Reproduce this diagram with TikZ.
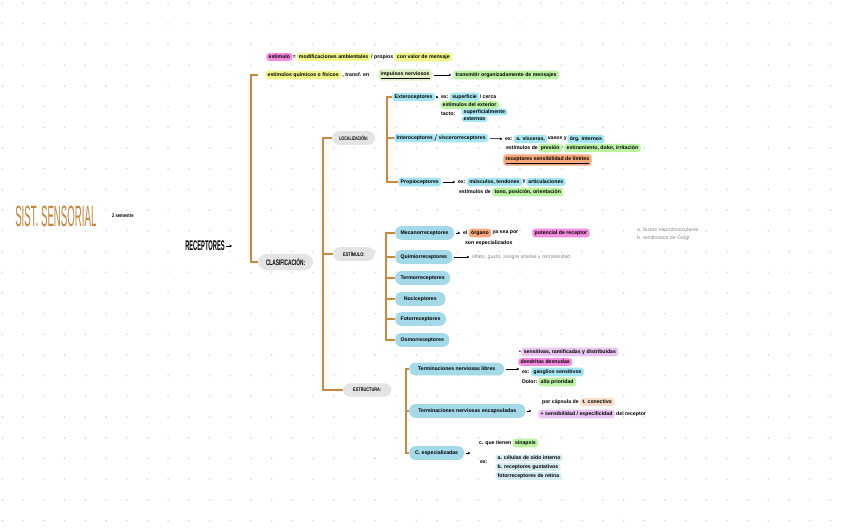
\documentclass[tikz,border=0pt]{standalone}
\usepackage{fontspec}
\setmainfont{Liberation Sans}
\usepackage{graphicx}
\usetikzlibrary{arrows.meta,positioning}
\definecolor{brk}{HTML}{C98A3E}
\definecolor{ttl}{HTML}{C9843A}
\definecolor{dotc}{HTML}{DADADA}
\definecolor{pillblue}{HTML}{A3D9E8}
\definecolor{pillgray}{HTML}{E4E4E4}
\definecolor{hlblue}{HTML}{A6E6F4}
\definecolor{hlyellow}{HTML}{F2F78A}
\definecolor{hlgreen}{HTML}{BCF4A4}
\definecolor{hlpink}{HTML}{F58CE0}
\definecolor{hlorange}{HTML}{F7A87C}
\definecolor{hllorange}{HTML}{FCDCCB}
\definecolor{hlpurple}{HTML}{EBC6F5}
\definecolor{hllblue}{HTML}{D5ECF3}
\definecolor{hlolive}{HTML}{E2F2C4}
\definecolor{graytxt}{HTML}{8A8A8A}
\newcommand\fsz{\fontsize{3.9}{4.5}\selectfont\bfseries}
\begin{document}
\begin{tikzpicture}[x=0.75pt,y=-0.75pt,
  txt/.style={font=\fsz, inner xsep=0.6pt, inner ysep=0.8pt, anchor=west},
  hl/.style={txt, fill=#1, rounded corners=2.2pt, inner xsep=1.8pt, inner ysep=1.4pt},
  pill/.style={font=\fsz, fill=pillblue, rounded corners=4.5pt, minimum height=9pt, inner xsep=4pt, anchor=west},
  gpill/.style={font=\fsz, fill=pillgray, rounded corners=5pt, minimum height=10pt, inner xsep=4pt, anchor=west},
  brkl/.style={draw=brk, line width=1.1pt},
  arr/.style={-{Stealth[length=2pt,width=2pt]}, line width=0.45pt, shorten >=1.2pt, shorten <=1.2pt}]
\useasboundingbox (0,0) rectangle (848,530);
\fill[white] (0,0) rectangle (848,530);
\foreach \i in {0,...,40}{\foreach \j in {0,...,25}{\fill[dotc] (2.5+20.7*\i,3.1+20.7*\j) circle[radius=0.9];}}

% title
\node[anchor=west, text=ttl, font=\fontsize{22}{22}\selectfont, inner sep=0pt] (title) at (15,216) {\scalebox{0.33}[1]{SIST. SENSORIAL}};
\node[txt] (sem) at (111,216) {\scalebox{0.8}[1]{2 semestre}};
\node[anchor=west, font=\fontsize{10.5}{10.5}\selectfont\bfseries, inner sep=0pt] (rec) at (185,246) {\scalebox{0.41}[1]{RECEPTORES}};
\coordinate (recend) at (232,246);
\draw[-{Stealth[length=2pt,width=2.2pt]}, line width=0.6pt] (rec.east) ++(1.5,0) -- (recend);

% row 1
\node[hl=hlpink] (r1a) at (266,57) {estímulo};
\node[txt, right=-0.6pt of r1a] (r1b) {=};
\node[hl=hlyellow, right=-0.6pt of r1b] (r1c) {modificaciones ambientales};
\node[txt, right=-0.6pt of r1c] (r1d) {/ propios};
\node[hl=hlyellow, right=0pt of r1d] (r1e) {con valor de mensaje};
% row 2
\node[hl=hlyellow] (r2a) at (265,75) {estímulos químicos o físicos};
\node[txt, right=0pt of r2a] (r2b) {, transf. en};
\node[hl=hlolive] (r2c) at (378,75) {\underline{impulsos nerviosos}};
\node[hl=hlgreen] (r2d) at (453,75) {transmitir organizadamente de mensajes};
\draw[arr] (r2c) -- (r2d);

% clasificacion
\node[gpill, minimum width=41pt, minimum height=12pt, rounded corners=6pt] (clas) at (258,262) {\scalebox{0.6}[1]{\fontsize{6}{6}\selectfont CLASIFICACIÓN:}};
\draw[brkl] (258,75) -- (251,75) |- (clas.west);

\node[gpill, minimum width=32pt] (loc) at (332,138) {\scalebox{0.7}[1]{LOCALIZACIÓN:}};
\node[gpill, minimum width=31pt] (est) at (333,254) {\scalebox{0.75}[1]{ESTÍMULO:}};
\node[gpill, minimum width=36pt] (estr) at (343,390) {\scalebox{0.75}[1]{ESTRUCTURA:}};
\draw[brkl] (loc.west) -- ++(-9,0) |- (estr.west);
\coordinate (b2) at (323,0);
\draw[brkl] (est.west) -- (est.west -| b2);

% localizacion
\node[hl=hlblue] (ext) at (392,97) {Exteroceptores};
\node[txt] (ex1) at (440,97) {ex:};
\node[hl=hlblue, right=0pt of ex1] (ex2) {superficie};
\node[txt, right=-0.6pt of ex2] (ex3) {/ cerca};
\node[hl=hlgreen] (ex4) at (440,105) {estímulos del exterior};
\node[txt] (ex5) at (440,114) {tacto:};
\node[hl=hlblue, inner ysep=0.8pt] (ex6) at (461,112) {superficialmente};
\node[hl=hlblue, inner ysep=0.8pt] (ex7) at (461,119) {externos};
\draw[arr] (ext) -- (ex1);

\node[hl=hlblue] (int) at (394,138) {Interoceptores};
\node[txt, font=\fontsize{7}{7}\selectfont, right=-1.2pt of int, inner xsep=0.3pt] (intsl) {/};
\node[hl=hlblue, right=-1.2pt of intsl] (visc) {viscerorreceptores};
\node[txt] (in1) at (504,139) {ex:};
\node[hl=hlblue, right=0pt of in1] (in2) {a. vísceras,};
\node[txt, right=-0.6pt of in2] (in3) {vasos y};
\node[hl=hlblue, right=-0.6pt of in3] (in4) {órg. internos};
\node[txt] (in5) at (505,148) {estímulos de};
\node[hl=hlgreen, right=-0.6pt of in5] (in6) {presión};
\node[txt, right=-0.8pt of in6] (in7) {,};
\node[hl=hlgreen, right=-0.6pt of in7] (in8) {estiramiento, dolor, irritación};
\node[hl=hlorange] (in9) at (503,160) {\underline{receptores sensibilidad de límites}};
\draw[arr] (visc) -- (in1);

\node[hl=hlblue] (pro) at (398,182) {Propioceptores};
\node[txt] (pr1) at (457,182) {ex:};
\node[hl=hlblue, right=0pt of pr1] (pr2) {músculos, tendones};
\node[txt, right=-0.6pt of pr2] (pr3) {y};
\node[hl=hlblue, right=-0.6pt of pr3] (pr4) {articulaciones};
\node[txt] (pr5) at (458,192) {estímulos de};
\node[hl=hlgreen, right=0pt of pr5] (pr6) {tono, posición, orientación};
\draw[arr] (pro) -- (pr1);

\draw[brkl] (ext.west) -- ++(-5,0) |- (pro.west);
\coordinate (b3) at (387,0);
\draw[brkl] (int.west) -- (int.west -| b3);

% estimulo
\node[pill, minimum width=41pt] (mec) at (395,233) {Mecanorreceptores};
\node[pill, minimum width=41pt] (qui) at (395,257) {Quimiorreceptores};
\node[pill, minimum width=37.5pt] (ter) at (395,278) {Termorreceptores};
\node[pill, minimum width=37.5pt] (noc) at (395,299) {Nociceptores};
\node[pill, minimum width=36pt] (fot) at (395,319) {Fotorreceptores};
\node[pill, minimum width=36pt] (osm) at (395,340) {Osmorreceptores};
\draw[brkl] (mec.west) -- ++(-9,0) |- (osm.west);
\coordinate (b4) at (386,0);
\foreach \n in {qui,ter,noc,fot} \draw[brkl] (\n.west) -- (\n.west -| b4);

\node[txt] (me1) at (462,233) {el};
\node[hl=hlorange, right=0pt of me1] (me2) {órgano};
\node[txt, right=0pt of me2] (me3) {ya sea por};
\node[hl=hlpink] (me4) at (532,233) {potencial de receptor};
\node[txt] (me5) at (464,243) {son especializados};
\draw[arr] (mec) -- (me1);
\node[txt, text=graytxt, font=\fontsize{3.9}{4.5}\selectfont] (sn1) at (636,230) {a. husos neuromusculares};
\node[txt, text=graytxt, font=\fontsize{3.9}{4.5}\selectfont] (sn2) at (636,238) {b. tendinosos de Golgi};

\node[txt, text=graytxt, font=\fontsize{3.9}{4.5}\selectfont] (qu1) at (471,257) {olfato, gusto, sangre arterial y osmolaridad};
\draw[arr] (qui) -- (qu1);

% estructura
\node[pill, minimum width=71pt] (tnl) at (409,369) {Terminaciones nerviosas libres};
\node[pill, minimum width=87pt] (tne) at (409,411) {Terminaciones nerviosas encapsuladas};
\node[pill, minimum width=41pt] (cesp) at (409,453) {C. especializadas};
\draw[brkl] (tnl.west) -- ++(-3,0) |- (cesp.west);
\coordinate (b5) at (406,0);
\draw[brkl] (tne.west) -- (tne.west -| b5);

\node[txt] (tl0) at (518,352) {•};
\node[hl=hlpurple, right=-0.6pt of tl0] (tl1) {sensitivas, ramificadas y distribuidas};
\node[hl=hlpink] (tl2) at (518,362) {dendritas desnudas};
\node[txt] (tl3) at (521,372) {ex:};
\node[hl=hlblue, right=0pt of tl3] (tl4) {ganglios sensitivos};
\node[txt] (tl5) at (521,382) {Dolor:};
\node[hl=hlgreen, right=-0.3pt of tl5] (tl6) {alta prioridad};
\draw[arr] (tnl) -- (tl3.west |- tnl);

\node[txt] (te1) at (541,402) {por cápsula de};
\node[hl=hllorange, right=0pt of te1] (te2) {t. conectivo};
\node[hl=hlpurple] (te3) at (538,414) {+ sensibilidad / especificidad};
\node[txt, right=0pt of te3] (te4) {del receptor};
\coordinate (tea) at (533,411);
\draw[arr] (tne) -- (tea);

\node[txt] (ce1) at (478,443) {c. que tienen};
\node[hl=hlgreen, right=0pt of ce1] (ce2) {sinapsis};
\node[txt] (ce3) at (479,462) {ex:};
\node[hl=hllblue, inner ysep=1pt] (ce4) at (495,458) {a. células de oído interno};
\node[hl=hllblue, inner ysep=1pt] (ce5) at (495,467) {b. receptores gustativos};
\node[hl=hllblue, inner ysep=1pt] (ce6) at (495,476) {fotorreceptores de retina};
\coordinate (cea) at (472,453);
\draw[arr] (cesp) -- (cea);
\end{tikzpicture}
\end{document}
